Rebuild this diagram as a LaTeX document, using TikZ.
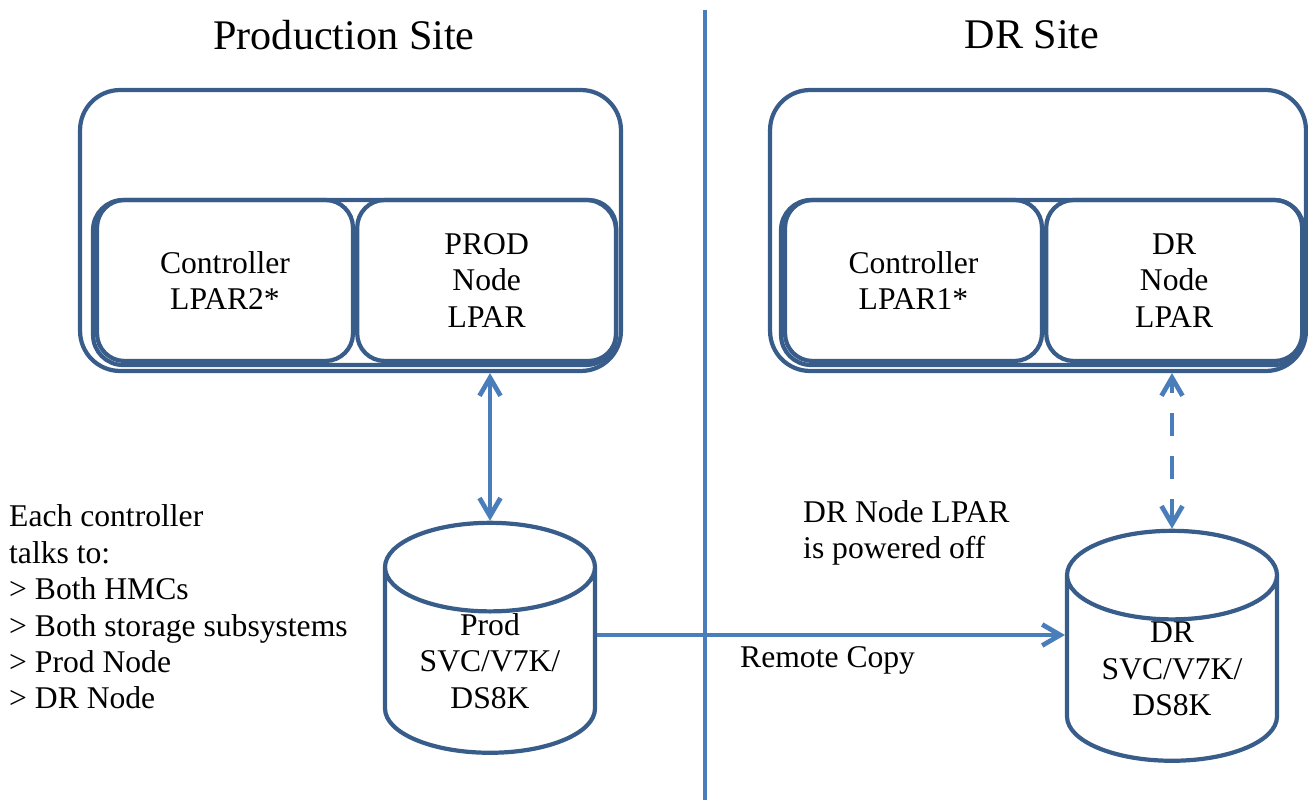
\documentclass[tikz,border=0pt]{standalone}
\usepackage{fontspec}
\setmainfont{Liberation Serif}
\usetikzlibrary{positioning,shapes.geometric,arrows.meta}
\definecolor{boxblue}{HTML}{385D8A}
\definecolor{linkblue}{HTML}{4A7EBB}

\begin{document}
\begin{tikzpicture}[x=0.02cm,y=-0.02cm,
    txt/.style={font=\fontsize{18}{20.7}\selectfont,align=center},
    title/.style={font=\fontsize{24}{28}\selectfont},
    site/.style={draw=boxblue,line width=2.4pt,rounded corners=0.8cm,inner sep=0pt},
    lpar/.style={draw=boxblue,line width=2.4pt,rounded corners=0.55cm,inner sep=0pt,
      minimum height=3.22cm,txt},
    disk/.style={draw=boxblue,line width=2.4pt,cylinder,shape border rotate=90,
      aspect=0.63,minimum width=4.2cm,minimum height=4.6cm,inner sep=0pt,txt},
    link/.style={draw=linkblue,line width=2.7pt},
    >={Straight Barb[length=3.6mm,width=4.2mm]}]
  \useasboundingbox (0,0) rectangle (1308,800);
  %% Titles and divider
  \node[title] (prodsite) at (344,35) {Production Site};
  \node[title] (drsite) at (1032,35) {DR Site};
  \coordinate (divtop) at (705,10);
  \coordinate (divbot) at (705,800);
  \draw[link,line width=2.2pt] (divtop) -- (divbot);
  %% Production site boxes
  \node[site,minimum width=10.82cm,minimum height=5.62cm] (prodbox) at (350.5,230.5) {};
  \node[site,rounded corners=0.6cm,minimum width=10.46cm,minimum height=3.3cm] (prodgrp) at (354.5,282.5) {};
  \node[lpar,minimum width=5.12cm] (ctl2) at (225,280.5) {Controller\\LPAR2*};
  \node[lpar,minimum width=5.18cm,right=0pt of ctl2] (pnode) {PROD\\Node\\LPAR};
  %% DR site boxes
  \node[site,minimum width=10.72cm,minimum height=5.62cm] (drbox) at (1038,230.5) {};
  \node[site,rounded corners=0.6cm,minimum width=10.46cm,minimum height=3.3cm] (drgrp) at (1042.5,282.5) {};
  \node[lpar,minimum width=5.14cm] (ctl1) at (913.5,280.5) {Controller\\LPAR1*};
  \node[lpar,minimum width=5.12cm,right=0pt of ctl1] (dnode) {DR\\Node\\LPAR};
  %% Storage
  \node[disk] (pcyl) at (490,661) {Prod\\SVC/V7K/\\DS8K};
  \node[disk] (dcyl) at (1172,669) {DR\\SVC/V7K/\\DS8K};
  %% Links
  \draw[link,<->] (pcyl.north) -- (pcyl.north |- prodbox.south);
  \draw[link,<->,dash pattern=on 0.46cm off 0.4cm] (dcyl.north) -- (dcyl.north |- drbox.south);
  \draw[link,->] ([yshift=0.52cm]pcyl.east) -- ([yshift=0.52cm]pcyl.east -| dcyl.west);
  %% Notes
  \node[txt,anchor=west] (copy) at (734,660) {Remote Copy};
  \node[txt,align=left,anchor=west] (off) at (797,533) {DR Node LPAR\\is powered off};
  \node[txt,align=left,anchor=west] (notes) at (3,607) {Each controller\\talks to:\\> Both HMCs\\> Both storage subsystems\\> Prod Node\\> DR Node};
\end{tikzpicture}
\end{document}
